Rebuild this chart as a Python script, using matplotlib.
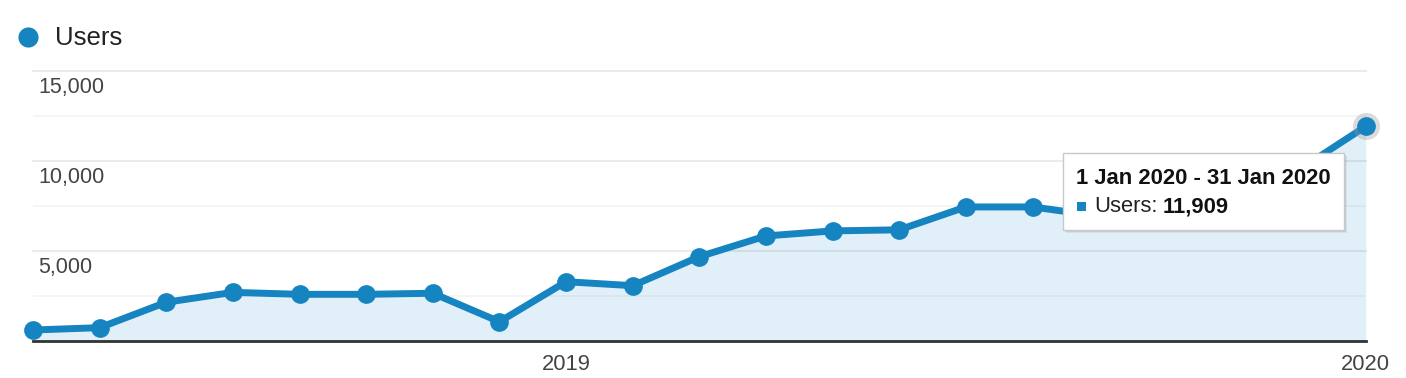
'''
Users per month, Google Analytics style area chart with hover tooltip
'''
import matplotlib
matplotlib.use("Agg")
import matplotlib.pyplot as plt
import numpy as np
from matplotlib.lines import Line2D
from matplotlib.patches import Rectangle

plt.rcParams["font.family"] = ["Liberation Sans", "DejaVu Sans"]

# data, one point per month (May 2018 .. Jan 2020)
months = ["2018-05", "2018-06", "2018-07", "2018-08", "2018-09", "2018-10", "2018-11",
          "2018-12", "2019-01", "2019-02", "2019-03", "2019-04", "2019-05", "2019-06",
          "2019-07", "2019-08", "2019-09", "2019-10", "2019-11", "2019-12", "2020-01"]
users = [610, 740, 2150, 2700, 2590, 2590, 2650, 1070, 3290, 3070, 4680, 5830, 6110,
         6170, 7440, 7440, 6930, 7600, 8300, 9500, 11909]
y_major = [0, 5000, 10000, 15000]
y_minor = [2500, 7500, 12500]
y_labels = ["", "5,000", "10,000", "15,000"]
tooltip_title = "1 Jan 2020 - 31 Jan 2020"
tooltip_metric = "Users:"
tooltip_value = "11,909"

LINE = "#1684c1"
FILL = "#e1f0f8"
W, H = 1406, 378

x = np.arange(len(months))
fig = plt.figure(figsize=(W / 100, H / 100), dpi=100)
ax = fig.add_axes([33 / W, 1 - 341 / H, 1332.7 / W, 270.3 / H])

ax.fill_between(x, users, 0, color=FILL, lw=0, zorder=1)
ax.plot(x, users, color=LINE, lw=5, solid_joinstyle="round", zorder=3, clip_on=False)
ax.plot(x[:-1], users[:-1], "o", color=LINE, ms=13.5, mew=0, zorder=4, clip_on=False)
# highlighted (hovered) last point
ax.plot(x[-1], users[-1], "o", color="#999999", alpha=0.35, ms=19.5, mew=0, zorder=4, clip_on=False)
ax.plot(x[-1], users[-1], "o", color=LINE, ms=13.5, mew=0, zorder=5, clip_on=False)

ax.set_xlim(x[0], x[-1])
ax.set_ylim(0, 15000)
ax.set_yticks(y_major)
ax.set_yticks(y_minor, minor=True)
ax.grid(axis="y", which="major", color="#000000", alpha=0.08, lw=1.5, zorder=2)
ax.grid(axis="y", which="minor", color="#000000", alpha=0.04, lw=1.5, zorder=2)
for gl in ax.yaxis.get_gridlines():
    gl.set_clip_on(False)
ax.tick_params(axis="y", which="both", length=0, labelleft=False)

jan_idx = [i for i, m in enumerate(months) if m.endswith("-01")]
ax.set_xticks(x[jan_idx])
ax.set_xticklabels([months[i][:4] for i in jan_idx])
ax.tick_params(axis="x", length=0, pad=9, labelsize=15.8, labelcolor="#444444")

for s in ["top", "right", "left"]:
    ax.spines[s].set_visible(False)
ax.spines["bottom"].set_color("#333333")
ax.spines["bottom"].set_linewidth(2)
ax.spines["bottom"].set_zorder(6)

for val, lab in zip(y_major, y_labels):
    if lab:
        ax.annotate(lab, xy=(0, val), xycoords=("axes fraction", "data"),
                    xytext=(4, -12.3), textcoords="offset points",
                    ha="left", va="center", fontsize=15.5, color="#444444")

# legend
fig.add_artist(Line2D([28 / W], [1 - 37 / H], marker="o", ms=14.5, color=LINE, mew=0,
                      transform=fig.transFigure))
fig.text(55 / W, 1 - 38 / H, "Users", fontsize=18.5, color="#222222", ha="left", va="center")

# tooltip
bx, by, bw, bh = 1063.3, 153.3, 281, 76.7
for off, a in [(3, 0.06), (2, 0.08), (1, 0.10)]:
    fig.add_artist(Rectangle(((bx + off) / W, 1 - (by + bh + off) / H), bw / W, bh / H,
                             transform=fig.transFigure, facecolor="#000000", alpha=a,
                             edgecolor="none", zorder=9))
fig.add_artist(Rectangle((bx / W, 1 - (by + bh) / H), bw / W, bh / H,
                         transform=fig.transFigure, facecolor="white",
                         edgecolor="#c8c8c8", lw=1, zorder=10))
fig.text(1076 / W, 1 - 178 / H, tooltip_title, fontsize=15.8, fontweight="bold",
         color="#111111", ha="left", va="center", zorder=11)
fig.add_artist(Rectangle((1077 / W, 1 - 210.5 / H), 9 / W, 9 / H, transform=fig.transFigure,
                         facecolor=LINE, edgecolor="none", zorder=11))
fig.text(1094 / W, 1 - 206.5 / H, tooltip_metric, fontsize=15.8, color="#222222",
         ha="left", va="center", zorder=11)
fig.text(1163 / W, 1 - 206.5 / H, tooltip_value, fontsize=15.8, fontweight="bold",
         color="#111111", ha="left", va="center", zorder=11)

fig.savefig("out.png", dpi=100)
